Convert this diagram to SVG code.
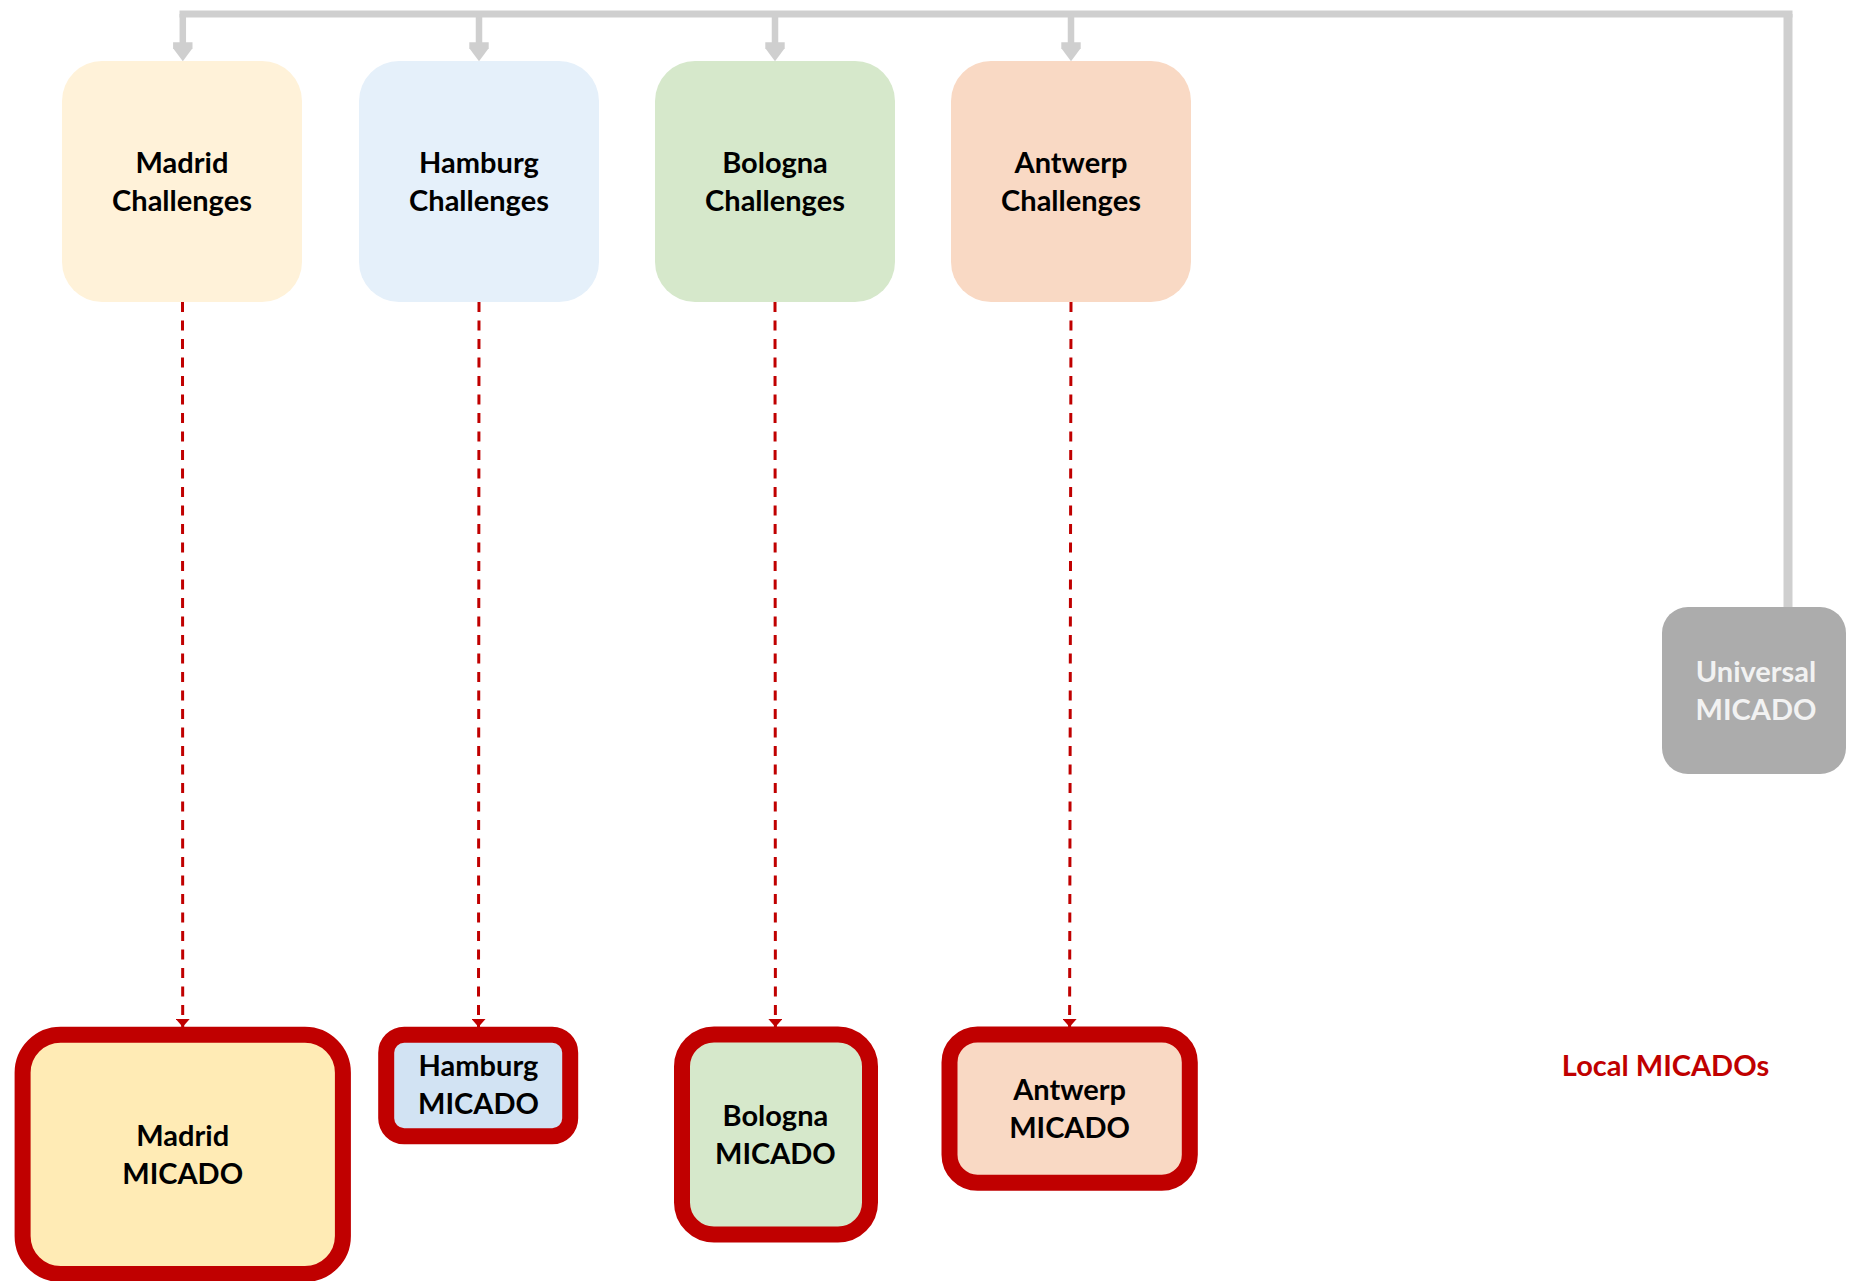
<svg xmlns="http://www.w3.org/2000/svg" xmlns:xlink="http://www.w3.org/1999/xlink" width="1860" height="1281" viewBox="0 0 1860 1281">
<style>
  .lbl { font-family: Lato, "Liberation Sans", sans-serif; font-weight: 700; font-size: 29px; text-anchor: middle; fill: #000000; }
  .uni { fill: #f2f2f2; }
  .red { fill: #c00000; }
  .chal { stroke: none; }
  .mic { stroke: #c00000; stroke-width: 16; }
  .gline { fill: none; stroke: #cfcfcf; stroke-linejoin: miter; }
  .dash { fill: none; stroke: #c00000; stroke-width: 3; stroke-dasharray: 10 8.5; marker-end: url(#redArrow); }
</style>
<defs>
  <marker id="redArrow" markerUnits="userSpaceOnUse" viewBox="0 0 8 14" refX="8" refY="7" markerWidth="8" markerHeight="14" orient="auto">
    <path d="M0,0 L8,7 L0,14 z" fill="#c00000"/>
  </marker>
  <path id="gArrow" d="M-9.7,0 H9.7 V6 L0,19 L-9.7,6 Z" fill="#cfcfcf"/>
</defs>

<g id="connectors">
  <path class="gline" stroke-width="9" d="M1788,608 V14"/>
  <path class="gline" stroke-width="7" d="M1792.5,14 H179.5"/>
  <path class="gline" stroke-width="6.5" d="M182.8,14 V44 M479,14 V44 M775,14 V44 M1071,14 V44"/>
  <use xlink:href="#gArrow" href="#gArrow" x="182.8" y="42.3"/>
  <use xlink:href="#gArrow" href="#gArrow" x="479" y="42.3"/>
  <use xlink:href="#gArrow" href="#gArrow" x="775" y="42.3"/>
  <use xlink:href="#gArrow" href="#gArrow" x="1071" y="42.3"/>
  <path class="dash" d="M182.5,302 L182.7,1027"/>
  <path class="dash" d="M479,302 L478.5,1027"/>
  <path class="dash" d="M775,302 L775.4,1027"/>
  <path class="dash" d="M1071,302 L1069.6,1027"/>
</g>

<g id="madrid-challenges">
  <rect class="chal" x="62" y="61" width="240" height="241" rx="40" fill="#fff2d9"/>
  <text class="lbl" x="182" y="173">Madrid</text>
  <text class="lbl" x="182" y="211">Challenges</text>
</g>
<g id="hamburg-challenges">
  <rect class="chal" x="359" y="61" width="240" height="241" rx="40" fill="#e5f0fa"/>
  <text class="lbl" x="479" y="173">Hamburg</text>
  <text class="lbl" x="479" y="211">Challenges</text>
</g>
<g id="bologna-challenges">
  <rect class="chal" x="655" y="61" width="240" height="241" rx="40" fill="#d6e8cb"/>
  <text class="lbl" x="775" y="173">Bologna</text>
  <text class="lbl" x="775" y="211">Challenges</text>
</g>
<g id="antwerp-challenges">
  <rect class="chal" x="951" y="61" width="240" height="241" rx="40" fill="#f9d9c4"/>
  <text class="lbl" x="1071" y="173">Antwerp</text>
  <text class="lbl" x="1071" y="211">Challenges</text>
</g>

<g id="universal-micado">
  <rect x="1662" y="607" width="184" height="167" rx="26" fill="#acacac"/>
  <text class="lbl uni" x="1756" y="682">Universal</text>
  <text class="lbl uni" x="1756" y="720">MICADO</text>
</g>

<g id="madrid-micado">
  <rect class="mic" x="22.6" y="1034.7" width="320.3" height="239.3" rx="38" fill="#ffebb5"/>
  <text class="lbl" x="182.7" y="1146">Madrid</text>
  <text class="lbl" x="182.7" y="1184">MICADO</text>
</g>
<g id="hamburg-micado">
  <rect class="mic" x="386.2" y="1034.7" width="184" height="101.6" rx="18" fill="#d2e3f3"/>
  <text class="lbl" x="478.5" y="1076">Hamburg</text>
  <text class="lbl" x="478.5" y="1114">MICADO</text>
</g>
<g id="bologna-micado">
  <rect class="mic" x="682" y="1034.5" width="188" height="200" rx="32" fill="#d6e8cb"/>
  <text class="lbl" x="775.4" y="1126">Bologna</text>
  <text class="lbl" x="775.4" y="1164">MICADO</text>
</g>
<g id="antwerp-micado">
  <rect class="mic" x="949.5" y="1034.5" width="240.3" height="148.2" rx="28" fill="#f9d9c4"/>
  <text class="lbl" x="1069.6" y="1100">Antwerp</text>
  <text class="lbl" x="1069.6" y="1138">MICADO</text>
</g>

<g id="local-micados-label">
  <text class="lbl red" x="1665.5" y="1076">Local MICADOs</text>
</g>
</svg>
